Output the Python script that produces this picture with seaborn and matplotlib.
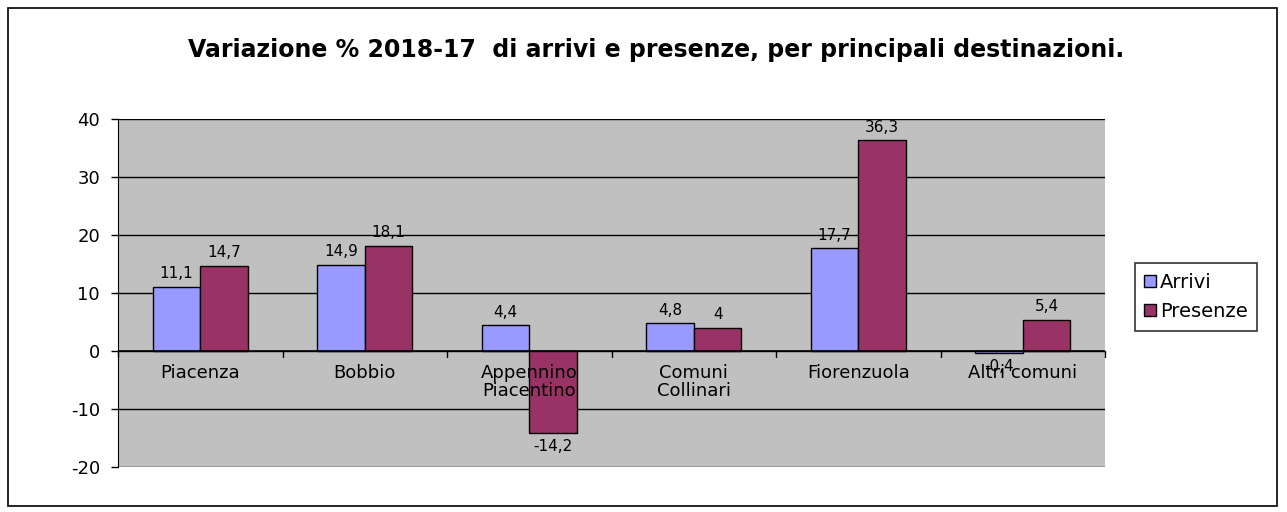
import pandas as pd
import matplotlib.pyplot as plt
import seaborn as sns
from matplotlib.patches import Rectangle, Patch

# data
categorie = ["Piacenza", "Bobbio", "Appennino\nPiacentino", "Comuni\nCollinari", "Fiorenzuola", "Altri comuni"]
arrivi = [11.1, 14.9, 4.4, 4.8, 17.7, -0.4]
presenze = [14.7, 18.1, -14.2, 4.0, 36.3, 5.4]
serie = ["Arrivi", "Presenze"]
colori = ["#9999FF", "#993366"]
y_ticks = [-20, -10, 0, 10, 20, 30, 40]

df = pd.DataFrame({
    "categoria": categorie * 2,
    "serie": ["Arrivi"] * len(categorie) + ["Presenze"] * len(categorie),
    "valore": arrivi + presenze,
})

sns.set_style("white")
plt.rcParams["font.family"] = ["DejaVu Sans"]
plt.rcParams["text.color"] = "black"
plt.rcParams["ytick.labelcolor"] = "black"

fig = plt.figure(figsize=(12.87, 5.12), dpi=100)
ax = fig.add_axes([0.0917, 0.0879, 0.7669, 0.6797])
ax.set_facecolor("#C0C0C0")

sns.barplot(data=df, x="categoria", y="valore", hue="serie", palette=colori,
            saturation=1, width=0.58, edgecolor="black", linewidth=1, ax=ax, legend=False)

# labels on bars with comma decimals
for cont in ax.containers:
    vals = [b.get_height() for b in cont]
    labs = [("%g" % v).replace(".", ",") for v in vals]
    ax.bar_label(cont, labels=labs, padding=4, fontsize=11, color="black")

ax.set_ylim(-20, 40)
ax.set_xlim(-0.5, len(categorie) - 0.5)
ax.set_yticks(y_ticks)
ax.set_yticklabels([str(t) for t in y_ticks], fontsize=13, color="black")
ax.yaxis.grid(True, color="black", linewidth=1)
ax.set_axisbelow(True)
ax.set_xticks([])
ax.set_xlabel("")
ax.set_ylabel("")
ax.tick_params(axis="y", left=True, length=5, width=1, color="black", pad=8)
for s in ["top", "right", "bottom"]:
    ax.spines[s].set_visible(False)
ax.spines["left"].set_color("black")

# axis at zero with category ticks
ax.axhline(0, color="black", linewidth=1.2)
for i in range(len(categorie) + 1):
    ax.plot([i - 0.5, i - 0.5], [0, -1], color="black", linewidth=1, clip_on=False)
for i, c in enumerate(categorie):
    ax.text(i, -2.3, c, ha="center", va="top", fontsize=13, linespacing=1.0, color="black")

fig.text(0.51, 0.902, "Variazione % 2018-17  di arrivi e presenze, per principali destinazioni.",
         ha="center", va="center", fontsize=17, fontweight="bold", color="black")

handles = [Patch(facecolor=colori[k], edgecolor="black", label=serie[k]) for k in range(2)]
leg = fig.legend(handles=handles, loc="center left", bbox_to_anchor=(0.874, 0.42),
                 frameon=True, fancybox=False, fontsize=14, handlelength=0.6,
                 handleheight=0.6, handletextpad=0.2, borderpad=0.5, labelspacing=0.5)
leg.get_frame().set_edgecolor("black")
leg.get_frame().set_linewidth(1.2)

# outer border
fig.patches.append(Rectangle((0.006, 0.012), 0.986, 0.972, transform=fig.transFigure,
                             fill=False, edgecolor="black", linewidth=1.2))

plt.savefig("out.png", dpi=100)
